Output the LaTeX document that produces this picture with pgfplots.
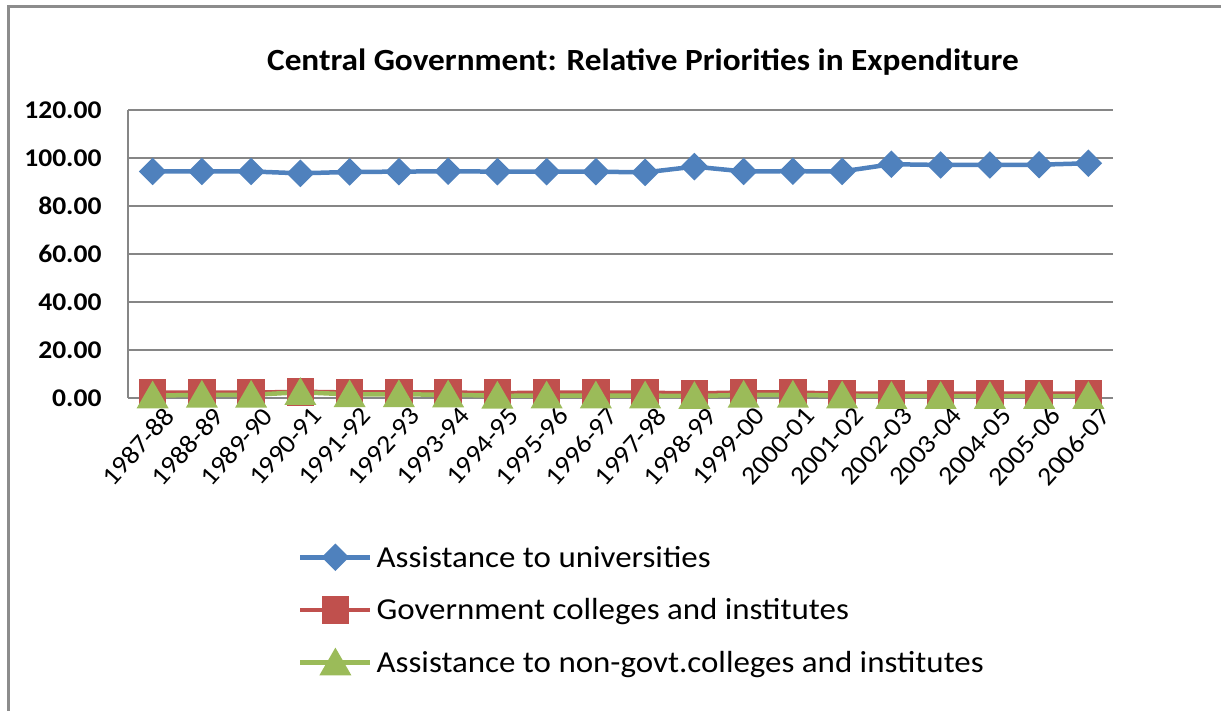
\documentclass[border=0pt]{standalone}
\usepackage{fontspec}
\setmainfont[FakeStretch=1.08]{Carlito}
\usepackage{pgfplots}
\pgfplotsset{compat=1.18}
\definecolor{cblue}{HTML}{4F81BD}
\definecolor{cred}{HTML}{C0504D}
\definecolor{cgreen}{HTML}{9BBB59}
\definecolor{cgrid}{HTML}{868686}
\definecolor{cframe}{HTML}{8C8C8C}
\begin{document}
\begin{tikzpicture}[x=1bp,y=1bp]
\useasboundingbox (0,0) rectangle (1221,711);
\draw[cframe, line width=3bp] (8,0) -- (8,704) -- (1230,704);
\node at (643,649) {\bfseries\fontsize{30.8bp}{32bp}\selectfont Central Government: Relative Priorities in Expenditure};
\begin{axis}[
  at={(128bp,313bp)}, anchor=south west,
  scale only axis, width=985bp, height=288bp,
  xmin=-0.5, xmax=19.5, ymin=0, ymax=120,
  ytick={0,20,40,60,80,100,120},
  xtick={0,...,19},
  xticklabels={1987-88,1988-89,1989-90,1990-91,1991-92,1992-93,1993-94,1994-95,1995-96,1996-97,1997-98,1998-99,1999-00,2000-01,2001-02,2002-03,2003-04,2004-05,2005-06,2006-07},
  axis x line*=bottom, axis y line*=left,
  axis line style={cgrid, line width=1.3bp},
  ymajorgrids, grid style={cgrid, line width=1.3bp},
  major tick length=0pt,
  /pgf/number format/assume math mode=true,
  yticklabel={\pgfmathprintnumber[fixed,fixed zerofill,precision=2]{\tick}},
  yticklabel style={font=\bfseries\fontsize{25.5bp}{26bp}\selectfont, xshift=-23bp},
  xticklabel style={font=\fontsize{26bp}{26bp}\selectfont, xshift=10bp, yshift=-6bp, rotate=48, anchor=north east, inner sep=1bp},
  legend style={draw=none, fill=none, at={(axis description cs:0.1695,-0.736)}, anchor=west,
     font=\fontsize{30.5bp}{32bp}\selectfont, row sep=22bp, nodes={inner sep=4bp}},
  legend cell align=left,
  legend image code/.code={\draw[mark repeat=2,mark phase=2,#1] plot coordinates {(0bp,0bp) (35bp,0bp) (70bp,0bp)};},
]
\addplot[cblue, line width=4.5bp, mark=square*, mark size=7.5bp, mark options={rotate=45, draw=none, fill=cblue}] coordinates {
(0,94.4) (1,94.4) (2,94.4) (3,93.6) (4,94.2) (5,94.3) (6,94.5) (7,94.3) (8,94.3) (9,94.3)
(10,94.0) (11,96.4) (12,94.4) (13,94.5) (14,94.4) (15,97.4) (16,97.1) (17,97.1) (18,97.2) (19,97.8)};
\addlegendentry{Assistance to universities}
\addplot[cred, line width=4.5bp, mark=square*, mark size=11.5bp, mark options={draw=none, fill=cred}] coordinates {
(0,2.2) (1,2.2) (2,2.2) (3,2.6) (4,2.3) (5,2.3) (6,2.3) (7,2.0) (8,2.2) (9,2.2)
(10,2.2) (11,1.9) (12,2.3) (13,2.3) (14,1.8) (15,1.8) (16,1.8) (17,1.8) (18,1.8) (19,1.8)};
\addlegendentry{Government colleges and institutes}
\addplot[cgreen, line width=4.5bp, mark=triangle*, mark size=14bp, mark options={draw=none, fill=cgreen, yshift=-3.5bp}] coordinates {
(0,1.0) (1,1.3) (2,1.3) (3,2.4) (4,1.5) (5,1.5) (6,1.4) (7,0.9) (8,1.0) (9,1.0)
(10,1.0) (11,0.8) (12,1.3) (13,1.3) (14,1.0) (15,0.8) (16,0.8) (17,0.8) (18,0.8) (19,0.8)};
\addlegendentry{Assistance to non-govt.colleges and institutes}
\end{axis}
\end{tikzpicture}
\end{document}
